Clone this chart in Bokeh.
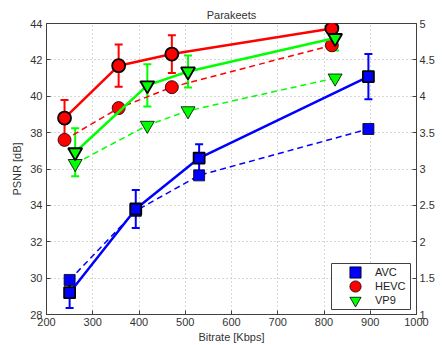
import math
from bokeh.plotting import figure
from bokeh.models import (Range1d, LinearAxis, FixedTicker, NumeralTickFormatter,
                          ColumnDataSource, Whisker, TeeHead, Legend, LegendItem, Label,
                          BoxAnnotation)
from bokeh.embed import file_html
from bokeh.resources import INLINE

# codecs and their styling
codecs = ["AVC", "HEVC", "VP9"]
colors = ["#0000ff", "#ff0000", "#00ff00"]
markers = ["square", "circle", "inverted_triangle"]
marker_sizes = [11, 13, 14]

# bitrate of each encode [Kbps]
avc_rate = [250, 393, 530, 896]
hevc_rate = [239, 356, 471, 817]
vp9_rate = [262, 418, 506, 824]

# PSNR [dB] (dashed, left axis)
avc_psnr = [29.9, 33.7, 35.65, 38.2]
hevc_psnr = [37.6, 39.35, 40.5, 42.8]
vp9_psnr = [36.3, 38.4, 39.2, 41.0]

# MOS (solid, right axis) with confidence interval half-widths
avc_mos = [1.30, 2.45, 3.15, 4.27]
avc_ci = [0.21, 0.26, 0.19, 0.31]
hevc_mos = [3.70, 4.42, 4.58, 4.93]
hevc_ci = [0.25, 0.29, 0.26, 0.06]
vp9_mos = [3.23, 4.15, 4.34, 4.80]
vp9_ci = [0.33, 0.29, 0.22, 0.17]

# axis ticks
x_ticks = [200, 300, 400, 500, 600, 700, 800, 900, 1000]
psnr_ticks = [28, 30, 32, 34, 36, 38, 40, 42, 44]
mos_ticks = [1, 1.5, 2, 2.5, 3, 3.5, 4, 4.5, 5]

FONT = "Liberation Sans"
TXT = "#333333"
AX = "#404040"

p = figure(width=444, height=345, x_range=Range1d(200, 1000), y_range=Range1d(28, 44),
           output_backend="svg", toolbar_location=None, title="Parakeets",
           min_border_left=46, min_border_right=28, min_border_top=23, min_border_bottom=31)
p.extra_y_ranges = {"mos": Range1d(1, 5)}

p.title.align = "center"
p.title.text_font = FONT
p.title.text_font_size = "11px"
p.title.text_font_style = "normal"
p.title.text_color = TXT
p.title.standoff = 5

p.background_fill_color = "white"
p.border_fill_color = "white"
p.outline_line_color = AX
p.outline_line_width = 1

p.xaxis.ticker = FixedTicker(ticks=x_ticks)
p.yaxis.ticker = FixedTicker(ticks=psnr_ticks)
p.xaxis.axis_label = "Bitrate [Kbps]"
p.yaxis.axis_label = "PSNR [dB]"

right = LinearAxis(y_range_name="mos", ticker=FixedTicker(ticks=mos_ticks),
                   formatter=NumeralTickFormatter(format="0.[0]"))
p.add_layout(right, "right")

for ax in [p.xaxis[0], p.yaxis[0], right]:
    ax.major_tick_in = 4
    ax.major_tick_out = 0
    ax.minor_tick_line_color = None
    ax.axis_line_color = AX
    ax.major_tick_line_color = AX
    ax.major_label_text_font = FONT
    ax.major_label_text_font_size = "11px"
    ax.major_label_text_color = TXT
    ax.axis_label_text_font = FONT
    ax.axis_label_text_font_size = "11px"
    ax.axis_label_text_font_style = "normal"
    ax.axis_label_text_color = TXT

p.xaxis.major_label_standoff = 3
p.xaxis.axis_label_standoff = 2
p.yaxis.major_label_standoff = 4
p.yaxis.axis_label_standoff = 4
right.major_label_standoff = 3

p.xgrid.grid_line_color = "#b0b0b0"
p.ygrid.grid_line_color = "#b0b0b0"
p.xgrid.grid_line_dash = "1 3"
p.ygrid.grid_line_dash = "1 3"

rates = [avc_rate, hevc_rate, vp9_rate]
psnrs = [avc_psnr, hevc_psnr, vp9_psnr]
moss = [avc_mos, hevc_mos, vp9_mos]
cis = [avc_ci, hevc_ci, vp9_ci]

legend_items = []
for name, col, mk, ms, rate, psnr, mos, ci in zip(codecs, colors, markers, marker_sizes,
                                                    rates, psnrs, moss, cis):
    # PSNR curve
    p.line(rate, psnr, line_color=col, line_width=1.5, line_dash="6 4")
    r_psnr = p.scatter(rate, psnr, marker=mk, size=ms, fill_color=col,
                       line_color="black", line_width=0.8)
    legend_items.append(LegendItem(label=name, renderers=[r_psnr]))

    # MOS curve with confidence intervals
    src = ColumnDataSource(dict(rate=rate, mos=mos,
                                lo=[m - c for m, c in zip(mos, ci)],
                                hi=[m + c for m, c in zip(mos, ci)]))
    p.add_layout(Whisker(source=src, base="rate", upper="hi", lower="lo",
                         dimension="height", y_range_name="mos",
                         line_color=col, line_width=2,
                         upper_head=TeeHead(size=8, line_color=col, line_width=2),
                         lower_head=TeeHead(size=8, line_color=col, line_width=2)))
    p.line("rate", "mos", source=src, y_range_name="mos", line_color=col, line_width=2.5)
    p.scatter("rate", "mos", source=src, y_range_name="mos", marker=mk, size=ms,
              fill_color=col, line_color="black", line_width=1.8)

# legend frame (screen pixels relative to the plot frame)
p.add_layout(BoxAnnotation(left=285, right=364, bottom=5, top=51,
                           left_units="screen", right_units="screen",
                           bottom_units="screen", top_units="screen",
                           fill_color="white", fill_alpha=1,
                           line_color=AX, line_width=1, line_alpha=1))

# one compact legend row per codec, stacked 14 px apart
for i, item in enumerate(legend_items):
    p.add_layout(Legend(items=[item], location=(289, 28 - 14 * i),
                        padding=0, spacing=0, margin=0,
                        glyph_width=40, glyph_height=28, label_standoff=0,
                        label_height=14,
                        label_text_font=FONT, label_text_font_size="11px",
                        label_text_color="#222222",
                        border_line_color=None, background_fill_alpha=0))

p.add_layout(Label(x=399, y=146, x_units="screen", y_units="screen", text="MOS [-]",
                   angle=math.pi / 2, text_align="center", text_baseline="middle",
                   text_font=FONT, text_font_size="11px", text_color=TXT))

open("out.html", "w").write(file_html(p, INLINE))
